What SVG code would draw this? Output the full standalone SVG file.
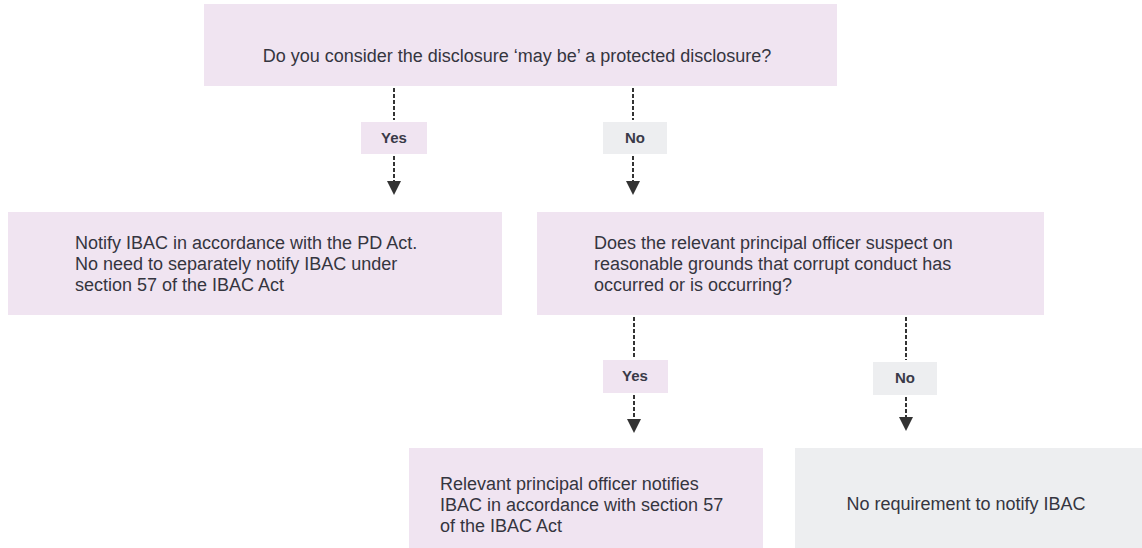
<svg xmlns="http://www.w3.org/2000/svg" width="1142" height="548" viewBox="0 0 1142 548">
<style>
.pink{fill:#f0e4f1}
.gray{fill:#edeef0}
.t{font-family:"Liberation Sans",Arial,sans-serif;font-size:18px;fill:#35353f}
.lbl{font-family:"Liberation Sans",Arial,sans-serif;font-size:15px;font-weight:bold;fill:#3a3a48;text-anchor:middle}
.dash{stroke:#333;stroke-width:2;stroke-dasharray:4 2;fill:none}
.head{fill:#333}
</style>
<rect width="1142" height="548" fill="#fff"/>
<g id="q1">
<rect class="pink" x="204" y="4" width="633" height="82"/>
<text class="t" x="517" y="62" text-anchor="middle">Do you consider the disclosure ‘may be’ a protected disclosure?</text>
</g>
<g id="notify-pd">
<rect class="pink" x="8" y="212" width="494" height="103"/>
<text class="t" x="75" y="249">Notify IBAC in accordance with the PD Act.</text>
<text class="t" x="75" y="270">No need to separately notify IBAC under</text>
<text class="t" x="75" y="291">section 57 of the IBAC Act</text>
</g>
<g id="q2">
<rect class="pink" x="537" y="212" width="507" height="103"/>
<text class="t" x="594" y="249">Does the relevant principal officer suspect on</text>
<text class="t" x="594" y="270">reasonable grounds that corrupt conduct has</text>
<text class="t" x="594" y="291">occurred or is occurring?</text>
</g>
<g id="notify-57">
<rect class="pink" x="409" y="448" width="354" height="100"/>
<text class="t" x="440" y="490">Relevant principal officer notifies</text>
<text class="t" x="440" y="511">IBAC in accordance with section 57</text>
<text class="t" x="440" y="532">of the IBAC Act</text>
</g>
<g id="no-req">
<rect class="gray" x="795" y="448" width="347" height="100"/>
<text class="t" x="966" y="510" text-anchor="middle">No requirement to notify IBAC</text>
</g>
<g id="connectors">
<path class="dash" d="M394,88 V120"/>
<path class="dash" d="M394,156 V181"/>
<path class="head" d="M387,181 L401,181 L394,195 Z"/>
<path class="dash" d="M633,88 V120"/>
<path class="dash" d="M633,156 V181"/>
<path class="head" d="M626,181 L640,181 L633,195 Z"/>
<path class="dash" d="M634,317 V358"/>
<path class="dash" d="M634,395 V419"/>
<path class="head" d="M627,419 L641,419 L634,433 Z"/>
<path class="dash" d="M906,317 V360"/>
<path class="dash" d="M906,397 V417"/>
<path class="head" d="M899,417 L913,417 L906,431 Z"/>
<g id="lbl-yes1"><rect class="pink" x="361" y="122" width="66" height="32"/><text class="lbl" x="394" y="143">Yes</text></g>
<g id="lbl-no1"><rect class="gray" x="603" y="122" width="64" height="32"/><text class="lbl" x="635" y="143">No</text></g>
<g id="lbl-yes2"><rect class="pink" x="603" y="360" width="65" height="33"/><text class="lbl" x="635" y="381">Yes</text></g>
<g id="lbl-no2"><rect class="gray" x="873" y="362" width="64" height="33"/><text class="lbl" x="905" y="383">No</text></g>
</g>
</svg>
